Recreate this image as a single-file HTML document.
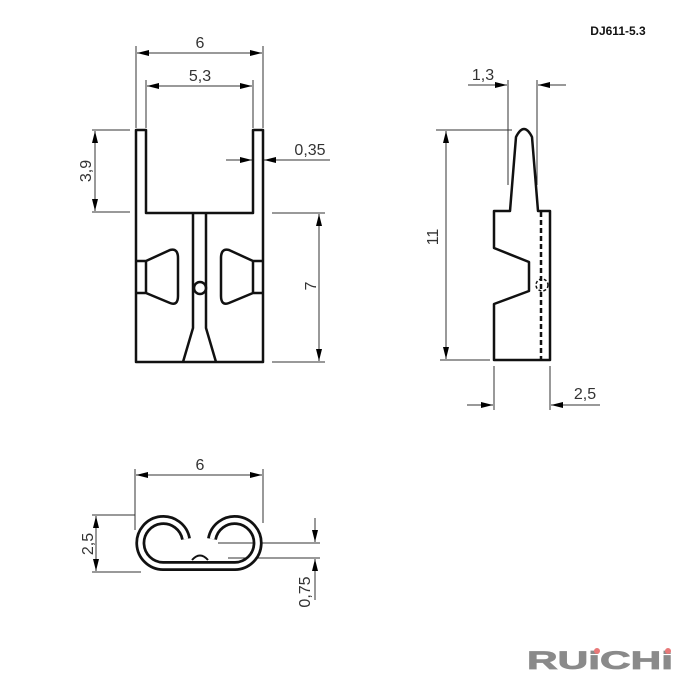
<!DOCTYPE html>
<html><head><meta charset="utf-8"><style>html,body{margin:0;padding:0;background:#fff}svg{display:block}</style></head>
<body>
<svg width="700" height="700" viewBox="0 0 700 700" xmlns="http://www.w3.org/2000/svg" font-family="Liberation Sans, sans-serif">
<defs>
<marker id="a" viewBox="0 0 12 6" refX="12" refY="3" markerWidth="12" markerHeight="6" orient="auto-start-reverse" markerUnits="userSpaceOnUse"><path d="M0,0 L12,3 L0,6 z" fill="#000"/></marker>
</defs>
<g stroke="#333" stroke-width="1" fill="none">
<line x1="136" y1="46" x2="136" y2="128"/><line x1="263" y1="46" x2="263" y2="128"/>
<line x1="137" y1="53" x2="262" y2="53" marker-start="url(#a)" marker-end="url(#a)"/>
<line x1="146" y1="80" x2="146" y2="128"/><line x1="253" y1="80" x2="253" y2="128"/>
<line x1="147" y1="86" x2="252" y2="86" marker-start="url(#a)" marker-end="url(#a)"/>
<line x1="92" y1="130" x2="130" y2="130"/><line x1="92" y1="212" x2="130" y2="212"/>
<line x1="95" y1="131" x2="95" y2="211" marker-start="url(#a)" marker-end="url(#a)"/>
<line x1="226" y1="160" x2="252" y2="160" marker-end="url(#a)"/>
<line x1="330" y1="160" x2="264" y2="160" marker-end="url(#a)"/>
<line x1="272" y1="213" x2="325" y2="213"/><line x1="272" y1="362" x2="325" y2="362"/>
<line x1="319" y1="214" x2="319" y2="361" marker-start="url(#a)" marker-end="url(#a)"/>
<line x1="508" y1="80" x2="508" y2="185"/><line x1="537" y1="80" x2="537" y2="185"/>
<line x1="468" y1="85" x2="507" y2="85" marker-end="url(#a)"/>
<line x1="566" y1="85" x2="538" y2="85" marker-end="url(#a)"/>
<line x1="436" y1="130" x2="512" y2="130"/><line x1="440" y1="360" x2="490" y2="360"/>
<line x1="446" y1="131" x2="446" y2="359" marker-start="url(#a)" marker-end="url(#a)"/>
<line x1="494" y1="366" x2="494" y2="410"/><line x1="550" y1="366" x2="550" y2="410"/>
<line x1="467" y1="405" x2="493" y2="405" marker-end="url(#a)"/>
<line x1="600" y1="405" x2="551" y2="405" marker-end="url(#a)"/>
<line x1="135" y1="469" x2="135" y2="530"/><line x1="263" y1="469" x2="263" y2="523"/>
<line x1="136" y1="475" x2="262" y2="475" marker-start="url(#a)" marker-end="url(#a)"/>
<line x1="92" y1="515" x2="135" y2="515"/><line x1="92" y1="572" x2="141" y2="572"/>
<line x1="96" y1="516" x2="96" y2="571" marker-start="url(#a)" marker-end="url(#a)"/>
<line x1="218" y1="543" x2="320" y2="543"/><line x1="228" y1="558" x2="320" y2="558"/>
<line x1="315" y1="518" x2="315" y2="542" marker-end="url(#a)"/>
<line x1="315" y1="600" x2="315" y2="559" marker-end="url(#a)"/>
</g>
<g stroke="#111" stroke-width="2.5" fill="none" stroke-linejoin="round">
<path d="M136,362 L136,130 L146,130 L146,213 L253,213 L253,130 L263,130 L263,362 Z"/>
<path d="M193,213 L193,328 L183,362 M206,213 L206,328 L216,362"/>
<circle cx="200" cy="288" r="6" fill="#fff"/>
<path d="M136,261 L146,261 L146,293 L136,293 M146,261 L170,250 Q178,248 178,258 L178,296 Q178,306 170,303 L146,293"/>
<path d="M263,261 L253,261 L253,293 L263,293 M253,261 L229,250 Q221,248 221,258 L221,296 Q221,306 229,303 L253,293"/>
<path d="M494,211 L510,211 L516,137 Q524,121 532,137 L538,211 L550,211 L550,360 L494,360 L494,304 L529,291 L529,262 L494,248 Z"/>
<line x1="541" y1="212" x2="541" y2="360" stroke-dasharray="5,3"/>
<circle cx="542" cy="285" r="6" stroke-width="1.5" stroke-dasharray="3,2"/>
</g>
<g fill="none" stroke-linecap="butt">
<path d="M186,539 A23,23 0 1 0 163,566 L235,566 A23,23 0 1 0 212,539" stroke="#111" stroke-width="10"/>
<path d="M186,539 A23,23 0 1 0 163,566 L235,566 A23,23 0 1 0 212,539" stroke="#fff" stroke-width="4.5"/>
<path d="M192,560 Q200,551 208,560" stroke="#111" stroke-width="2"/>
</g>
<g font-size="16" fill="#333" text-anchor="middle">
<text x="200" y="48">6</text>
<text x="200" y="81">5,3</text>
<text x="310" y="155">0,35</text>
<text x="483" y="80">1,3</text>
<text x="585" y="399">2,5</text>
<text x="200" y="470">6</text>
<text transform="translate(91,171) rotate(-90)">3,9</text>
<text transform="translate(316,286) rotate(-90)">7</text>
<text transform="translate(438,237) rotate(-90)">11</text>
<text transform="translate(93,544) rotate(-90)">2,5</text>
<text transform="translate(310,592) rotate(-90)">0,75</text>
</g>
<text x="618" y="35" font-size="12" font-weight="bold" text-anchor="middle" fill="#111">DJ611-5.3</text>
<text x="527" y="669" font-size="25" font-weight="bold" fill="#8a8a8a" stroke="#8a8a8a" stroke-width="0.8" textLength="146" lengthAdjust="spacingAndGlyphs">RUiCHi</text>
<circle cx="597" cy="651" r="3" fill="#e87878"/>
<circle cx="668" cy="651" r="3" fill="#e87878"/>
</svg>
</body></html>
